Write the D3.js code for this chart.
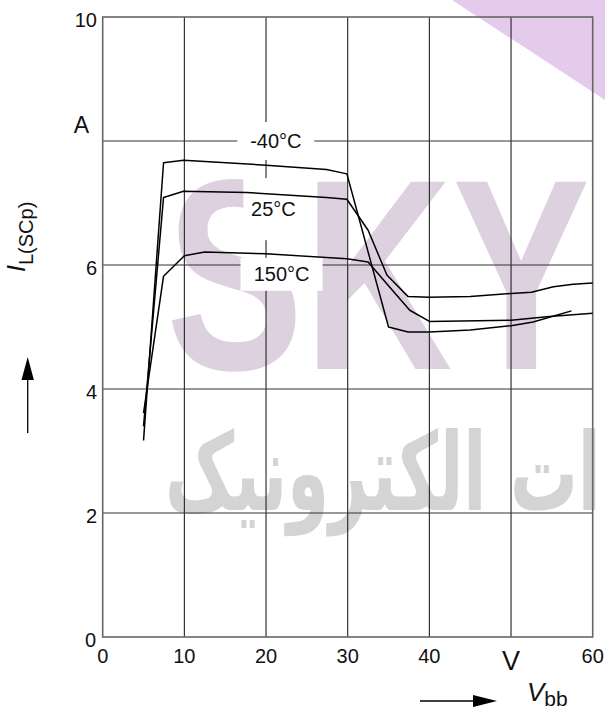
<!DOCTYPE html>
<html><head><meta charset="utf-8">
<script src="https://cdn.jsdelivr.net/npm/d3@7/dist/d3.min.js"></script>
<style>html,body{margin:0;padding:0;background:#fff;}svg{display:block;}</style>
</head><body>
<script>
// ---- data ----
const xTicks = [0, 10, 20, 30, 40, 60];
const xUnitTick = 50;           // tick position replaced by the unit "V"
const yTicks = [0, 2, 4, 6, 10];
const yUnitTick = 8;            // tick position replaced by the unit "A"
const gridX = [10, 20, 30, 40, 50];
const gridY = [2, 4, 6, 8];

const seriesNames = ["-40°C", "25°C", "150°C"];
const tM40 = [[5,3.17],[7.45,7.65],[9.9,7.69],[20,7.61],[27.4,7.54],[29.9,7.47],[35,5.00],[37.4,4.92],[40,4.92],[45,4.95],[50,5.02],[52.7,5.08],[57.4,5.26]];
const t25  = [[5,3.40],[7.45,7.09],[9.9,7.19],[17.6,7.17],[27.4,7.09],[29.9,7.06],[32.5,6.56],[34.8,5.84],[37.4,5.49],[40,5.48],[45,5.49],[50,5.54],[52.5,5.56],[55.2,5.65],[57.6,5.69],[60,5.71]];
const t150 = [[5,3.61],[7.45,5.82],[10,6.15],[12.5,6.21],[20,6.18],[29.9,6.10],[32.5,6.05],[35.1,5.65],[37.6,5.27],[40,5.09],[50,5.11],[54.7,5.17],[60,5.22]];
const seriesData = [tM40, t25, t150];
const labelPos = [[21.2, 8.0], [20.9, 6.9], [21.9, 5.85]]; // label anchor (data coords)

// ---- layout ----
const W = 605, H = 711;
const svg = d3.select("body").append("svg").attr("width", W).attr("height", H);
const x = d3.scaleLinear().domain([0, 60]).range([102.7, 592.7]);
const y = d3.scaleLinear().domain([0, 10]).range([637, 17]);
const FONT = "'Liberation Sans', Arial, sans-serif";

// ---- watermark (decorative) ----
svg.append("polygon").attr("points", "452,0 605,0 605,100").attr("fill", "#e4cbec");
const sky = svg.append("text").attr("x", 0).attr("y", 0)
  .attr("font-family", FONT).attr("font-weight", "bold").attr("font-size", 200)
  .attr("fill", "#ddd1e0").text("SKY");
const skyW = sky.node().getComputedTextLength() || 411;
sky.attr("transform", `translate(166,369) scale(${424 / skyW},1.36)`);

const fa = svg.append("text").attr("x", 0).attr("y", 0)
  .attr("font-family", "'DejaVu Sans', sans-serif").attr("font-weight", "bold").attr("font-size", 100)
  .attr("fill", "#d4d4d4").text("ات الکترونیک");
const faW = fa.node().getComputedTextLength() || 438;
const fs = 100 * 436 / faW;
fa.attr("font-size", fs).attr("transform", "translate(165,510) scale(1,1.6)");

// ---- grid ----
const g = svg.append("g");
g.selectAll(".gx").data(gridX).enter().append("line")
  .attr("x1", d => x(d)).attr("x2", d => x(d)).attr("y1", y(0)).attr("y2", y(10))
  .attr("stroke", "#222").attr("stroke-width", 1.1);
g.selectAll(".gy").data(gridY).enter().append("line")
  .attr("y1", d => y(d)).attr("y2", d => y(d)).attr("x1", x(0)).attr("x2", x(60))
  .attr("stroke", "#333").attr("stroke-width", 1.1);
g.append("rect").attr("x", x(0)).attr("y", y(10)).attr("width", x(60) - x(0)).attr("height", y(0) - y(10))
  .attr("fill", "none").attr("stroke", "#666").attr("stroke-width", 1.6);

// ---- label boxes (white, interrupt grid) ----
const boxes = [[77, 38], [60, 62], [82, 33]];
seriesNames.forEach((n, i) => {
  const cx = x(labelPos[i][0]), cy = y(labelPos[i][1]);
  const b = boxes[i];
  svg.append("rect").attr("x", cx - b[0] / 2).attr("y", cy - b[1] / 2)
    .attr("width", b[0]).attr("height", b[1]).attr("fill", "#fff");
});

// ---- curves ----
const line = d3.line().x(d => x(d[0])).y(d => y(d[1]));
svg.selectAll(".curve").data(seriesData).enter().append("path")
  .attr("d", line).attr("fill", "none").attr("stroke", "#000").attr("stroke-width", 1.5)
  .attr("stroke-linejoin", "round");

// ---- curve labels ----
seriesNames.forEach((n, i) => {
  svg.append("text").attr("x", x(labelPos[i][0])).attr("y", y(labelPos[i][1]) + 7)
    .attr("text-anchor", "middle").attr("font-family", FONT).attr("font-size", 20)
    .attr("fill", "#111").text(n);
});

// ---- tick labels ----
svg.selectAll(".xt").data(xTicks).enter().append("text")
  .attr("x", d => x(d)).attr("y", 663).attr("text-anchor", "middle")
  .attr("font-family", FONT).attr("font-size", 20).attr("fill", "#111").text(d => d);
svg.append("text").attr("x", x(xUnitTick)).attr("y", 670).attr("text-anchor", "middle")
  .attr("font-family", FONT).attr("font-size", 27).attr("fill", "#111").text("V");
svg.selectAll(".yt").data(yTicks).enter().append("text")
  .attr("x", d => d === 0 ? 96 : 97).attr("y", d => d === 0 ? 647 : y(d) + 10).attr("text-anchor", "end")
  .attr("font-family", FONT).attr("font-size", 20).attr("fill", "#111").text(d => d);
svg.append("text").attr("x", 89).attr("y", y(yUnitTick) - 8).attr("text-anchor", "end")
  .attr("font-family", FONT).attr("font-size", 23).attr("fill", "#111").text("A");

// ---- axis titles ----
const yt = svg.append("text").attr("transform", "translate(25,272) rotate(-90)")
  .attr("font-family", FONT).attr("fill", "#111");
yt.append("tspan").attr("font-style", "italic").attr("font-size", 25).text("I");
yt.append("tspan").attr("font-size", 20).attr("dy", 8).text("L(SCp)");

const xt = svg.append("text").attr("x", 527).attr("y", 701)
  .attr("font-family", FONT).attr("fill", "#111");
xt.append("tspan").attr("font-style", "italic").attr("font-size", 26).text("V");
xt.append("tspan").attr("font-size", 21).attr("dy", 5).text("bb");

// arrows
svg.append("line").attr("x1", 420).attr("x2", 478).attr("y1", 701).attr("y2", 701).attr("stroke", "#000").attr("stroke-width", 1.3);
svg.append("polygon").attr("points", "473,695 497,701 473,707").attr("fill", "#000");
svg.append("line").attr("x1", 27.7).attr("x2", 27.7).attr("y1", 433).attr("y2", 375).attr("stroke", "#000").attr("stroke-width", 1.3);
svg.append("polygon").attr("points", "21.5,380 27.7,357 33.9,380").attr("fill", "#000");
</script>
</body></html>
